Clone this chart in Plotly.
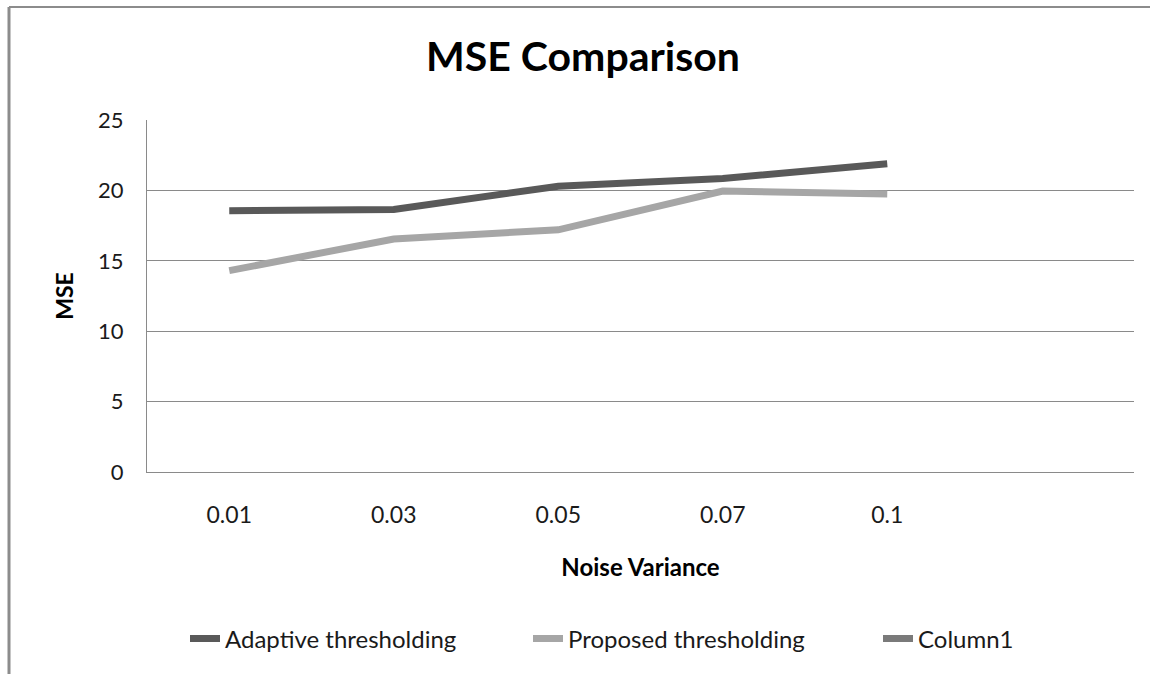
import plotly.graph_objects as go

categories = ["0.01", "0.03", "0.05", "0.07", "0.1"]
adaptive = [18.55, 18.65, 20.3, 20.85, 21.9]
proposed = [14.3, 16.55, 17.2, 19.95, 19.75]
column1 = [None, None, None, None, None]

FONT = "Lato"
TXT = "#1a1a1a"
L, R, T, B = 147, 16, 120, 202
W, H = 1150, 674
PW, PH = W - L - R, H - T - B


def px_x(x):
    return (x - L) / PW


def px_y(y):
    return (H - B - y) / PH


fig = go.Figure()
fig.add_trace(go.Scatter(x=categories, y=adaptive, mode="lines", name="Adaptive thresholding",
                         line=dict(color="#595959", width=7), legend="legend"))
fig.add_trace(go.Scatter(x=categories, y=proposed, mode="lines", name="Proposed thresholding",
                         line=dict(color="#a6a6a6", width=7), legend="legend2"))
fig.add_trace(go.Scatter(x=categories, y=column1, mode="lines", name="Column1",
                         line=dict(color="#7a7a7a", width=7), showlegend=True, legend="legend3"))

leg_common = dict(orientation="h", xanchor="left", yanchor="middle", y=px_y(639),
                  font=dict(size=24, color=TXT), bgcolor="rgba(0,0,0,0)")

fig.update_layout(
    width=W, height=H,
    margin=dict(l=L, r=R, t=T, b=B, autoexpand=False),
    paper_bgcolor="white", plot_bgcolor="white",
    font=dict(family=FONT, color=TXT, size=22),
    title=dict(text="<b>MSE Comparison</b>", x=583 / W, xanchor="center", y=1 - 57 / H, yanchor="middle",
               font=dict(family=FONT, size=41, color="#000000")),
    xaxis=dict(type="category", categoryorder="array", categoryarray=categories,
               range=[-0.5, 5.5], showgrid=False, showline=True, linecolor="#8a8a8a", linewidth=1,
               ticks="", tickfont=dict(size=23, color=TXT), ticklabelstandoff=22,
               title=dict(text="<b>Noise Variance</b>", font=dict(size=24, color="#000000"), standoff=32)),
    yaxis=dict(range=[0, 25], tickvals=[0, 5, 10, 15, 20, 25], showgrid=True, gridcolor="#8a8a8a",
               gridwidth=1, showline=True, linecolor="#8a8a8a", linewidth=1, ticks="",
               tickfont=dict(size=22, color=TXT), zeroline=False, ticklabelstandoff=18,
               title=dict(text="<b>MSE</b>", font=dict(size=23, color="#000000"), standoff=18)),
    legend=dict(x=px_x(185), **leg_common),
    legend2=dict(x=px_x(528), **leg_common),
    legend3=dict(x=px_x(878), **leg_common),
    showlegend=True,
)
fig.add_shape(type="line", xref="paper", yref="paper", x0=px_x(9), x1=1.1, y0=px_y(7),
              y1=px_y(7), line=dict(color="#8c8c8c", width=2))
fig.add_shape(type="line", xref="paper", yref="paper", x0=px_x(9), x1=px_x(9),
              y0=px_y(7), y1=-0.6, line=dict(color="#8c8c8c", width=3))
fig.write_html("out.html", config={"displayModeBar": False},
               post_script="document.body.style.margin='0';document.body.style.overflow='hidden';")
